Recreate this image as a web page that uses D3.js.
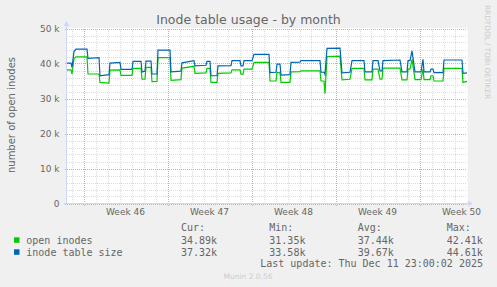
<!DOCTYPE html>
<html>
<head>
<meta charset="utf-8">
<script src="https://cdn.jsdelivr.net/npm/d3@7"></script>
<style>
  html, body { margin: 0; padding: 0; background: #F0F0F0; }
  svg { display: block; }
  text { font-family: "DejaVu Sans", sans-serif; fill: #666666; }
  .mono { font-family: "DejaVu Sans Mono", monospace; font-size: 10px; }
</style>
</head>
<body>
<svg id="chart" width="497" height="287"></svg>
<script>
// ---- data ----
const title = "Inode table usage - by month";
const yLabel = "number of open inodes";
const windowStart = Date.UTC(2025, 10, 8, 15, 0, 0);
const windowEnd = Date.UTC(2025, 11, 11, 23, 0, 0);
// hours since windowStart
const hours = [0, 8, 10, 14, 18, 40, 42, 64, 66, 84, 86, 106, 108, 130, 132, 148, 150, 156, 158, 168,
  170, 180, 182, 206, 208, 228, 230, 254, 256, 278, 280, 286, 288, 300, 302, 328, 330, 346, 348, 352,
  354, 370, 374, 404, 406, 418, 420, 426, 428, 446, 448, 466, 468, 506, 508, 514, 516, 520, 546, 550,
  566, 570, 594, 596, 610, 612, 622, 626, 630, 632, 666, 670, 680, 682, 686, 690, 696, 708, 712, 714,
  726, 728, 732, 734, 752, 754, 790, 792, 800];
// inode table size (k)
const tableSize = [40.1, 40.1, 38.9, 43.4, 44.1, 44.1, 41.5, 41.7, 36.5, 36.8, 40.1, 40.3, 38.3, 38.3, 40.6, 40.6, 37.6, 37.8, 40.7, 40.7,
  37.0, 37.0, 43.8, 43.8, 37.6, 37.8, 40.2, 40.8, 39.3, 39.5, 40.6, 40.6, 36.5, 36.5, 39.3, 39.4, 40.8, 40.8, 39.3, 39.3,
  40.8, 40.8, 42.6, 42.6, 37.4, 37.5, 39.8, 39.8, 36.7, 36.8, 40.3, 40.4, 40.8, 40.8, 37.5, 37.5, 36.9, 44.3, 44.4, 37.3,
  37.5, 40.8, 40.8, 37.6, 37.6, 40.8, 40.8, 37.9, 37.9, 40.8, 41.0, 37.6, 37.6, 40.8, 40.8, 43.6, 37.6, 37.6, 41.2, 37.6,
  37.6, 38.4, 38.4, 37.4, 37.4, 41.0, 41.0, 37.2, 37.32];
// open inodes (k)
const openInodes = [38.2, 38.2, 36.95, 41.4, 41.9, 41.9, 37.0, 37.0, 34.6, 34.4, 38.1, 38.2, 36.6, 36.6, 38.6, 38.6, 35.5, 35.5, 38.9, 38.9,
  34.8, 34.9, 41.7, 41.7, 35.2, 35.4, 38.7, 39.2, 37.2, 37.3, 38.6, 38.6, 34.6, 34.6, 37.2, 37.3, 38.2, 38.2, 36.95, 36.95,
  38.4, 38.4, 40.3, 40.3, 35.0, 35.0, 37.4, 37.4, 34.6, 34.6, 37.6, 37.7, 37.9, 37.9, 35.0, 35.0, 31.4, 42.0, 42.1, 35.3,
  35.5, 38.6, 38.6, 35.3, 35.3, 38.4, 38.4, 35.5, 35.5, 38.7, 38.7, 35.3, 35.3, 38.4, 38.4, 41.2, 35.4, 35.4, 38.4, 35.4,
  35.4, 36.5, 36.5, 35.0, 35.0, 38.6, 38.6, 34.6, 34.89];
const seriesNames = ["open inodes", "inode table size"];
const seriesColors = ["#00CC00", "#0066B3"];
const statHeaders = ["Cur:", "Min:", "Avg:", "Max:"];
const statsOpen = ["34.89k", "31.35k", "37.44k", "42.41k"];
const statsSize = ["37.32k", "33.58k", "39.67k", "44.61k"];
const lastUpdate = "Last update: Thu Dec 11 23:00:02 2025";
const footer = "Munin 2.0.56";
const sideText = "RRDTOOL / TOBI OETIKER";

// ---- layout ----
const svg = d3.select("#chart");
const L = 67, R = 467, T = 28.5, B = 203.5;
const x = d3.scaleUtc().domain([new Date(windowStart), new Date(windowEnd)]).range([L, R]);
const y = d3.scaleLinear().domain([0, 50000]).range([B, T]);

// canvas
svg.append("rect").attr("x", L).attr("y", T - 0.5).attr("width", R - L + 0.5).attr("height", B - T + 0.5).attr("fill", "#FFFFFF");

const grid = svg.append("g").attr("shape-rendering", "crispEdges");
// minor grid
const minorY = y.ticks(25);
const majorY = y.ticks(5);
grid.selectAll(".my").data(minorY.filter(v => !majorY.includes(v))).join("line")
  .attr("x1", L).attr("x2", R).attr("y1", d => Math.round(y(d)) + 0.5).attr("y2", d => Math.round(y(d)) + 0.5)
  .attr("stroke", "#dcdcdc").attr("stroke-dasharray", "1,1");
const minorX = x.ticks(d3.utcDay);
const majorX = x.ticks(d3.utcMonday);
const majorSet = new Set(majorX.map(d => +d));
grid.selectAll(".mx").data(minorX.filter(d => !majorSet.has(+d))).join("line")
  .attr("x1", d => Math.round(x(d)) + 0.5).attr("x2", d => Math.round(x(d)) + 0.5).attr("y1", T).attr("y2", B)
  .attr("stroke", "#dcdcdc").attr("stroke-dasharray", "1,1");
// major grid
grid.selectAll(".My").data(majorY).join("line")
  .attr("x1", L - 2).attr("x2", R).attr("y1", d => Math.round(y(d)) + 0.5).attr("y2", d => Math.round(y(d)) + 0.5)
  .attr("stroke", "#F0A0A0").attr("stroke-dasharray", "1,1");
grid.selectAll(".Mx").data(majorX).join("line")
  .attr("x1", d => Math.round(x(d)) + 0.5).attr("x2", d => Math.round(x(d)) + 0.5).attr("y1", T).attr("y2", B + 3)
  .attr("stroke", "#F0A0A0").attr("stroke-dasharray", "1,1");

// lines
const times = hours.map(h => new Date(windowStart + h * 3600e3));
const line = d3.line().x(d => x(d[0])).y(d => y(d[1] * 1000));
const seriesData = [openInodes, tableSize];
seriesData.forEach((vals, i) => {
  svg.append("path").datum(times.map((t, j) => [t, vals[j]]))
    .attr("d", line).attr("fill", "none").attr("stroke", seriesColors[i]).attr("stroke-width", 1.2);
});

// axes lines + arrows
const axisColor = "#CFD6F8";
svg.append("line").attr("x1", L - 0.5).attr("x2", L - 0.5).attr("y1", B + 1).attr("y2", 25).attr("stroke", axisColor);
svg.append("line").attr("x1", L - 3).attr("x2", R + 2).attr("y1", B).attr("y2", B).attr("stroke", axisColor);
svg.append("path").attr("d", `M${L - 3.5},26 L${L + 2.5},26 L${L - 0.5},21 Z`).attr("fill", axisColor);
svg.append("path").attr("d", `M${R + 1},${B - 3} L${R + 1},${B + 3} L${R + 6},${B} Z`).attr("fill", axisColor);

// y tick labels
const yAxis = d3.axisLeft(y).tickValues(majorY).tickSize(0).tickPadding(7.5)
  .tickFormat(v => v === 0 ? "0" : (v / 1000) + " k");
const gy = svg.append("g").attr("transform", `translate(${L},0)`).call(yAxis);
gy.select(".domain").remove();
gy.selectAll("text").attr("font-size", "9px").attr("font-family", "DejaVu Sans").attr("fill", "#666666");

// x labels (centered mid-week)
const weekFmt = d3.utcFormat("%V");
svg.selectAll(".wk").data(majorX).join("text")
  .attr("x", d => x(new Date(+d + 3.5 * 86400e3)))
  .attr("y", 215).attr("text-anchor", "middle").attr("font-size", "9px")
  .text(d => "Week " + (+weekFmt(d)));

// title
svg.append("text").attr("x", 248.5).attr("y", 24).attr("text-anchor", "middle").attr("font-size", "12.5px").text(title);
// y label
svg.append("text").attr("transform", "translate(14.5,115) rotate(-90)").attr("text-anchor", "middle")
  .attr("font-size", "10px").text(yLabel);
// side text
svg.append("text").attr("transform", "translate(484.5,5) rotate(90)").attr("text-anchor", "start")
  .attr("font-size", "7.3px").attr("fill", "#CCCCCC").style("fill", "#CCCCCC").text(sideText);

// legend
const colX = [181, 269.3, 357.7, 446.7];
svg.selectAll(".hdr").data(statHeaders).join("text").attr("class", "mono")
  .attr("x", (d, i) => colX[i]).attr("y", 231).text(d => d);
const rows = [statsOpen, statsSize];
rows.forEach((r, k) => {
  const by = 243.6 + k * 12;
  svg.append("rect").attr("x", 14).attr("y", by - 6.3).attr("width", 5.5).attr("height", 5.5).attr("fill", seriesColors[k]);
  svg.append("text").attr("class", "mono").attr("x", 26.3).attr("y", by).text(seriesNames[k]);
  svg.selectAll(".r" + k).data(r).join("text").attr("class", "mono")
    .attr("x", (d, i) => colX[i]).attr("y", by).text(d => d);
});
svg.append("text").attr("class", "mono").attr("x", 483).attr("y", 267.3).attr("text-anchor", "end").text(lastUpdate);
svg.append("text").attr("x", 248).attr("y", 278.7).attr("text-anchor", "middle").attr("font-size", "7.5px")
  .style("fill", "#CCCCCC").text(footer);
</script>
</body>
</html>
